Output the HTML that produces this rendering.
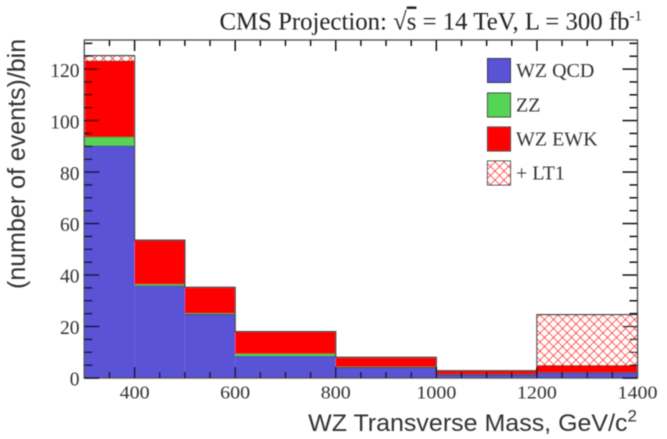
<!DOCTYPE html>
<html>
<head>
<meta charset="utf-8">
<style>
html,body{margin:0;padding:0;background:#fff;}
svg{display:block;}
</style>
</head>
<body>
<svg id="chart" xmlns="http://www.w3.org/2000/svg" width="667" height="439" viewBox="0 0 667 439">
<defs>
<filter id="soft" x="-5%" y="-5%" width="110%" height="110%"><feGaussianBlur stdDeviation="0.5"/></filter>
<pattern id="hatch" patternUnits="userSpaceOnUse" width="9" height="9">
<rect width="9" height="9" fill="#fff"/>
<path d="M0 0L9 9M9 0L0 9" stroke="#f33" stroke-width="1" fill="none"/>
</pattern>
</defs>
<g id="root" filter="url(#soft)"></g>
</svg>
<script>
const binEdges = [300, 400, 500, 600, 800, 1000, 1200, 1400];
const wzQcd = [90.2, 35.8, 24.8, 8.5, 4.1, 1.3, 2.0];
const zz = [3.5, 0.7, 0.4, 1.0, 0.3, 0.2, 0.2];
const wzEwk = [29.6, 17.0, 10.0, 8.5, 3.6, 1.3, 2.8];
const lt1 = [1.9, 0, 0, 0, 0, 0, 19.6];
const xTickLabels = [400, 600, 800, 1000, 1200, 1400];
const yTickLabels = [0, 20, 40, 60, 80, 100, 120];
const legendLabels = ['WZ QCD', 'ZZ', 'WZ EWK', '+ LT1'];

const NS = 'http://www.w3.org/2000/svg';
const root = document.getElementById('root');
const plot = {left: 84.3, right: 637.5, top: 40, bottom: 378};
const xMin = 300, xMax = 1400, yMin = 0, yMax = 131.3;
function sx(v){ return plot.left + (v - xMin) / (xMax - xMin) * (plot.right - plot.left); }
function sy(v){ return plot.bottom - (v - yMin) / (yMax - yMin) * (plot.bottom - plot.top); }
function add(tag, attrs, text){
  const el = document.createElementNS(NS, tag);
  for (const k in attrs) el.setAttribute(k, attrs[k]);
  if (text !== undefined) el.textContent = text;
  root.appendChild(el);
  return el;
}
const layers = [
  {name: 'wz-qcd', vals: wzQcd, fill: '#5a52d6', stroke: '#2b2b55'},
  {name: 'zz', vals: zz, fill: '#55d455', stroke: '#1f5f3a'},
  {name: 'wz-ewk', vals: wzEwk, fill: '#ff0000', stroke: '#3a1010'},
  {name: 'lt1', vals: lt1, fill: 'url(#hatch)', stroke: '#555'}
];
const base = binEdges.slice(1).map(() => 0);
layers.forEach(function(layer){
  layer.vals.forEach(function(v, i){
    if (v <= 0) return;
    const y0 = sy(base[i]);
    const y1 = sy(base[i] + v);
    const bar = add('rect', {
      x: sx(binEdges[i]), y: y1,
      width: sx(binEdges[i + 1]) - sx(binEdges[i]), height: y0 - y1,
      fill: layer.fill
    });
    
    
    const top = add('line', {
      x1: sx(binEdges[i]), x2: sx(binEdges[i + 1]), y1: y1, y2: y1,
      stroke: layer.stroke, 'stroke-width': 1.1
    });
    
    
    base[i] += v;
  });
});
// stack outline
let d = 'M' + sx(binEdges[0]) + ' ' + sy(0);
base.forEach(function(h, i){
  d += 'L' + sx(binEdges[i]) + ' ' + sy(h) + 'L' + sx(binEdges[i + 1]) + ' ' + sy(h);
});
d += 'L' + sx(binEdges[binEdges.length - 1]) + ' ' + sy(0);
const outline = add('path', {d: d, fill: 'none', stroke: '#444', 'stroke-width': 1.2});


// frame
const frame = add('rect', {x: plot.left, y: plot.top, width: plot.right - plot.left, height: plot.bottom - plot.top, fill: 'none', stroke: '#555', 'stroke-width': 1.4});


// x ticks
for (let v = xMin + 50; v < xMax; v += 50) {
  const major = v % 200 === 0;
  const len = major ? 11 : 6;
  [[plot.bottom, plot.bottom - len], [plot.top, plot.top + len]].forEach(function(p){
    const t = add('line', {x1: sx(v), x2: sx(v), y1: p[0], y2: p[1], stroke: '#000', 'stroke-width': 1.4});
    
    
  });
}
// y ticks
for (let v = 0; v <= 130; v += 5) {
  const major = v % 20 === 0;
  const len = major ? 15 : 8;
  [[plot.left, plot.left + len], [plot.right, plot.right - len]].forEach(function(p){
    const t = add('line', {x1: p[0], x2: p[1], y1: sy(v), y2: sy(v), stroke: '#000', 'stroke-width': 1.4});
    
    
  });
}
const serif = '"Liberation Serif", serif';
const sans = '"Liberation Sans", sans-serif';
xTickLabels.forEach(function(v){
  const t = add('text', {transform: 'translate(' + sx(v) + ',398.3) scale(1,0.88)', 'text-anchor': 'middle', 'font-family': serif, 'font-size': 20, fill: '#333'}, v);
  
  
});
yTickLabels.forEach(function(v){
  const t = add('text', {x: 79.5, y: sy(v) + 7.7, 'text-anchor': 'end', 'font-family': serif, 'font-size': 19.5, fill: '#333'}, v);
  
  
});
// legend
const legendFills = ['#5a52d6', '#55d455', '#ff0000', 'url(#hatch)'];
const legendTops = [58.5, 93, 127, 161];
legendLabels.forEach(function(label, i){
  const s = add('rect', {x: 487.5, y: legendTops[i], width: 23, height: 24, fill: legendFills[i], stroke: '#333', 'stroke-width': 1});
  
  
  const t = add('text', {x: 516, y: legendTops[i] + 18.5, 'font-family': serif, 'font-size': 20, fill: '#333'}, label);
  
  
});
// titles
const xt = add('text', {transform: 'translate(637,431) scale(1,0.95)', 'text-anchor': 'end', 'font-family': sans, 'font-size': 25, fill: '#333'});


xt.innerHTML = 'WZ Transverse Mass, GeV/c<tspan font-size="17" dy="-10">2</tspan>';
const yt = add('text', {transform: 'translate(25,289) rotate(-90)', 'text-anchor': 'start', 'font-family': sans, 'font-size': 25, fill: '#333'}, '(number of events)/bin');


const title = add('text', {x: 642, y: 29.5, 'text-anchor': 'end', 'font-family': serif, 'font-size': 24.8, fill: '#222'});


title.innerHTML = 'CMS Projection: √<tspan text-decoration="overline">s</tspan> = 14 TeV, L = 300 fb<tspan font-size="15" dy="-9">-1</tspan>';
</script>
</body>
</html>
